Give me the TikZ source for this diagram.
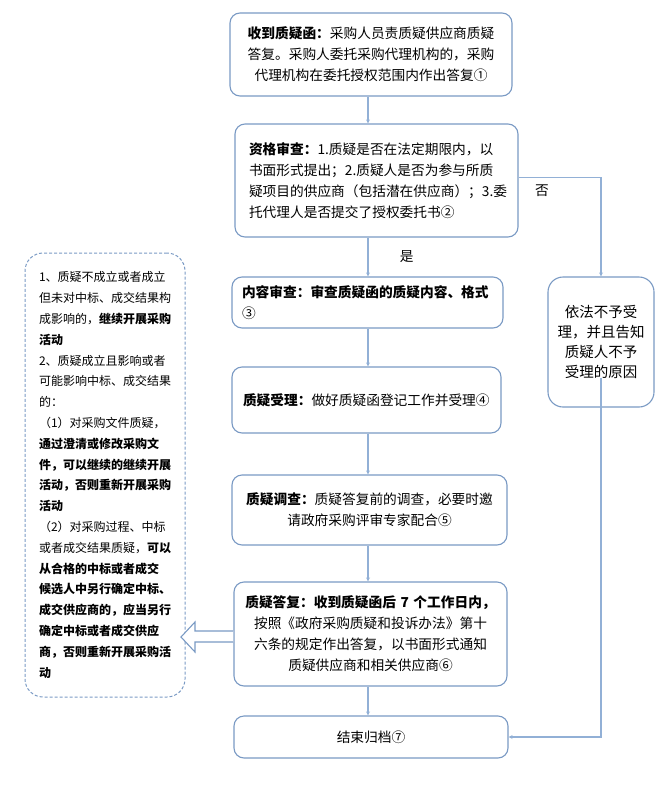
\documentclass[tikz,border=0pt]{standalone}
\usepackage{fontspec}
\setmainfont{Noto Sans CJK SC}
\usetikzlibrary{arrows.meta, calc}
\definecolor{boxblue}{RGB}{122,154,196}
\definecolor{lineblue}{RGB}{146,176,214}

\tikzset{
  stage/.style={draw=boxblue, line width=1.1pt, rounded corners=10pt, fill=white,
    inner ysep=0pt, font=\fontsize{13.7}{21}\selectfont},
  link/.style={draw=lineblue, line width=1.1pt, -{Stealth[length=4pt,width=4pt]}},
}

\begin{document}
\begin{tikzpicture}[x=1pt, y=-1pt]
  \useasboundingbox (0,0) rectangle (668,809);
  \coordinate (spine) at (368,0);

  % main column
  \node[stage, minimum width=282pt, minimum height=83pt, inner xsep=10pt, text width=262pt, align=center]
    (receive) at (371,54.5)
    {\textbf{收到质疑函：}采购人员责质疑供应商质疑\\答复。采购人委托采购代理机构的，采购\\代理机构在委托授权范围内作出答复①};
  \node[stage, minimum width=283pt, minimum height=113pt, inner xsep=14pt, text width=255pt, align=left]
    (qualify) at (376.5,180.5)
    {\textbf{资格审查：}1.质疑是否在法定期限内，以\\书面形式提出；2.质疑人是否为参与所质\\疑项目的供应商（包括潜在供应商）；3.委\\托代理人是否提交了授权委托书②};
  \node[stage, minimum width=271pt, minimum height=51pt, inner xsep=10pt, text width=251pt, align=left]
    (content) at (367.5,302.5)
    {\textbf{内容审查：审查质疑函的质疑内容、格式}\\③};
  \node[stage, minimum width=269pt, minimum height=66pt, inner xsep=11pt, text width=247pt, align=left]
    (accept) at (366.5,400)
    {\textbf{质疑受理：}做好质疑函登记工作并受理④};
  \node[stage, minimum width=275pt, minimum height=70pt, inner xsep=10pt, text width=255pt, align=center]
    (survey) at (369.5,510)
    {\textbf{质疑调查：}质疑答复前的调查，必要时邀\\请政府采购评审专家配合⑤};
  \node[stage, minimum width=273pt, minimum height=104pt, inner xsep=10pt, text width=253pt, align=center]
    (answer) at (370.5,634)
    {\textbf{质疑答复：收到质疑函后 7 个工作日内，}\\按照《政府采购质疑和投诉办法》第十\\六条的规定作出答复，以书面形式通知\\质疑供应商和相关供应商⑥};
  \node[stage, minimum width=274pt, minimum height=42pt, inner xsep=10pt, text width=254pt, align=center]
    (archive) at (371,737) {结束归档⑦};

  % rejection branch
  \node[stage, rounded corners=15pt, minimum width=106pt, minimum height=130pt, inner xsep=8pt,
    text width=90pt, align=center, font=\fontsize{14.5}{20}\selectfont]
    (reject) at (601,342) {依法不予受\\理，并且告知\\质疑人不予\\受理的原因};

  % outcome notes
  \node[draw=boxblue, line width=1pt, dash pattern=on 3pt off 2pt, rounded corners=18pt,
    minimum width=160pt, minimum height=444pt, inner xsep=14pt, inner ysep=0pt, text width=132pt,
    align=left, font=\fontsize{12}{20.8}\selectfont]
    (outcome) at (105,475)
    {1、质疑不成立或者成立\\但未对中标、成交结果构\\成影响的，{\bfseries 继续开展采购\\活动}\\
     2、质疑成立且影响或者\\可能影响中标、成交结果\\的：\\
     （1）对采购文件质疑，\\{\bfseries 通过澄清或修改采购文\\件，可以继续的继续开展\\活动，否则重新开展采购\\活动}\\
     （2）对采购过程、中标\\或者成交结果质疑，{\bfseries 可以\\从合格的中标或者成交\\候选人中另行确定中标、\\成交供应商的，应当另行\\确定中标或者成交供应\\商，否则重新开展采购活\\动}};

  % connectors
  \draw[link] (receive.south -| spine) -- (qualify.north -| spine);
  \draw[link] (qualify.south -| spine) -- (content.north -| spine)
    node[midway, right=28pt, font=\fontsize{13.7}{16}\selectfont] (yes) {是};
  \draw[link] (content.south -| spine) -- (accept.north -| spine);
  \draw[link] (accept.south -| spine) -- (survey.north -| spine);
  \draw[link] (survey.south -| spine) -- (answer.north -| spine);
  \draw[link] (answer.south -| spine) -- (archive.north -| spine);
  \draw[link] ([yshift=3pt]qualify.east) -| (reject.north);
  \node[font=\fontsize{13.7}{16}\selectfont] (no) at (542,191) {否};
  \draw[link] ([yshift=30pt]reject.south) |- (archive.east);

  % hollow arrow to the notes
  \draw[boxblue, line width=1.1pt, fill=white]
    (233,631) -- (195,631) -- (195,622) -- (181,637) -- (195,652) -- (195,642) -- (233,642);
\end{tikzpicture}
\end{document}
